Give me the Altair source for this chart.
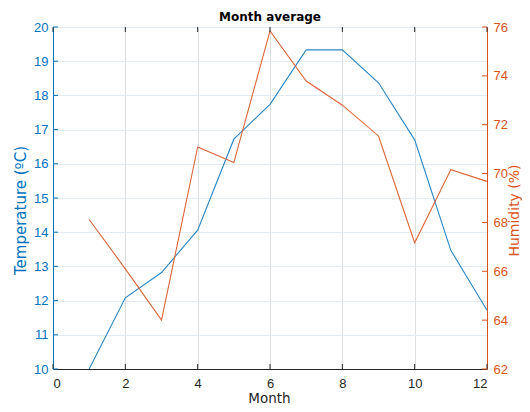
import altair as alt
import pandas as pd

months = [1, 2, 3, 4, 5, 6, 7, 8, 9, 10, 11, 12]
temperature = [10.0, 12.08, 12.82, 14.06, 16.72, 17.74, 19.33, 19.33, 18.37, 16.70, 13.47, 11.72]
humidity = [68.12, 66.1, 64.0, 71.09, 70.45, 75.84, 73.79, 72.8, 71.54, 67.17, 70.16, 69.68]

x_ticks = [0, 2, 4, 6, 8, 10, 12]
temp_ticks = [10, 11, 12, 13, 14, 15, 16, 17, 18, 19, 20]
hum_ticks = [62, 64, 66, 68, 70, 72, 74, 76]

BLUE = "#0072BD"
ORANGE = "#D95319"
BLUE_LINE = "#2a86c6"
ORANGE_LINE = "#dc6638"
DARK = "#262626"
FONT = "Liberation Sans"
TFONT = "DejaVu Sans"
W, H = 434, 342

df = pd.DataFrame({"month": months, "temp": temperature, "hum": humidity})
xt = pd.DataFrame({"month": x_ticks})
tt = pd.DataFrame({"v": temp_ticks})
ht = pd.DataFrame({"v": hum_ticks})

xscale = alt.Scale(domain=[0, 12], nice=False, zero=False)

temp_line = alt.Chart(df).mark_line(color=BLUE_LINE, strokeWidth=1.1).encode(
    x=alt.X("month:Q", scale=xscale,
            axis=alt.Axis(values=x_ticks, title="Month", grid=True, gridColor="#dedede",
                          ticks=False, domainColor=DARK, domainWidth=1.2, labelColor=DARK,
                          titleColor=DARK, labelPadding=18, labelBaseline="alphabetic",
                          titleX=216, titleY=33, titleBaseline="alphabetic", titleAlign="center",
                          labelFontSize=13, titleFontSize=13.5, titleFontWeight="normal",
                          labelFont=FONT, titleFont=TFONT)),
    y=alt.Y("temp:Q", scale=alt.Scale(domain=[10, 20], nice=False, zero=False),
            axis=alt.Axis(orient="left", values=temp_ticks, title="Temperature (ºC)", grid=True,
                          gridColor="#e2ebf3", ticks=False, domainColor=BLUE, labelColor=BLUE,
                          titleColor=BLUE, labelPadding=5,
                          titleX=-28, titleY=183, titleAngle=270, titleBaseline="alphabetic",
                          titleAlign="center",
                          labelFontSize=13, titleFontSize=15, titleFontWeight="normal",
                          labelFont=FONT, titleFont=TFONT)),
)

hum_line = alt.Chart(df).mark_line(color=ORANGE_LINE, strokeWidth=1.1).encode(
    x=alt.X("month:Q", scale=xscale),
    y=alt.Y("hum:Q", scale=alt.Scale(domain=[62, 76], nice=False, zero=False),
            axis=alt.Axis(orient="right", values=hum_ticks, title="Humidity (%)", grid=False,
                          ticks=False, domainColor=ORANGE, labelColor=ORANGE,
                          titleColor=ORANGE, labelPadding=6,
                          titleX=31.5, titleY=183, titleAngle=270, titleBaseline="alphabetic",
                          titleAlign="center",
                          labelFontSize=13, titleFontSize=14, titleFontWeight="normal",
                          labelFont=FONT, titleFont=TFONT)),
)

xtick_bottom = alt.Chart(xt).mark_rule(color=DARK, strokeWidth=1).encode(
    x=alt.X("month:Q", scale=xscale), y=alt.value(H), y2=alt.value(H - 5))
xtick_top = alt.Chart(xt).mark_rule(color=DARK, strokeWidth=1).encode(
    x=alt.X("month:Q", scale=xscale), y=alt.value(0), y2=alt.value(5))
ttick = alt.Chart(tt).mark_rule(color=BLUE, strokeWidth=1).encode(
    y=alt.Y("v:Q", scale=alt.Scale(domain=[10, 20], nice=False, zero=False), axis=None),
    x=alt.value(0), x2=alt.value(5))
htick = alt.Chart(ht).mark_rule(color=ORANGE, strokeWidth=1).encode(
    y=alt.Y("v:Q", scale=alt.Scale(domain=[62, 76], nice=False, zero=False), axis=None),
    x=alt.value(W - 5), x2=alt.value(W))

chart = alt.layer(temp_line, hum_line, xtick_bottom, xtick_top, ttick, htick).resolve_scale(
    y="independent"
).properties(
    width=W, height=H,
    title=alt.TitleParams("Month average", fontSize=12, fontWeight="bold", font=TFONT,
                          color="black", offset=5, dy=8),
    autosize=alt.AutoSizeParams(type="none"),
    padding={"left": 45, "top": 19, "right": 35, "bottom": 35},
).configure_view(stroke=DARK, strokeWidth=1)

chart.save("out.html", embed_options={"renderer": "svg", "actions": False})
